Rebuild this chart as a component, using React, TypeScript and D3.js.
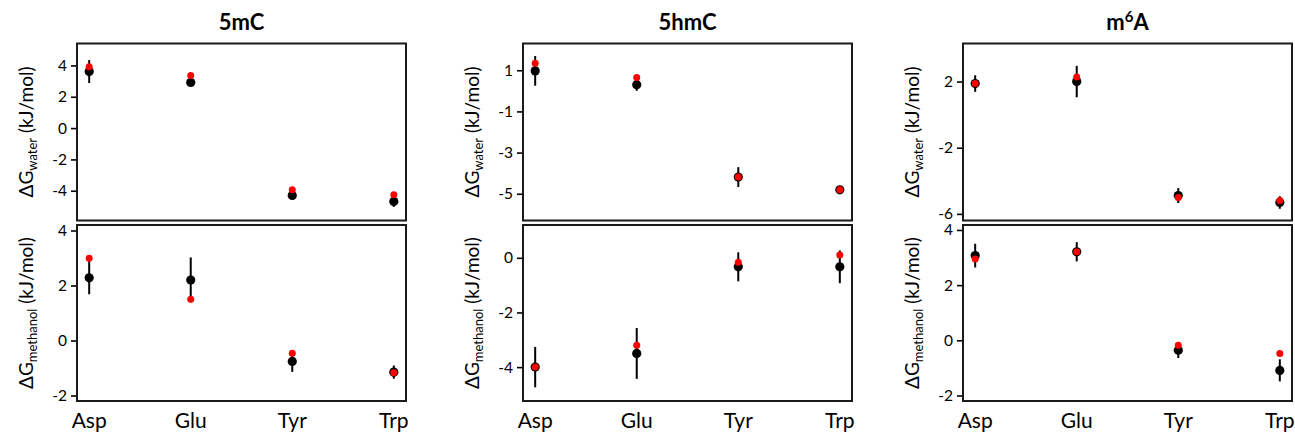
import React, { useEffect, useRef } from "react";
import * as d3 from "d3";

// amino acids on the x axis
const categories = ["Asp", "Glu", "Tyr", "Trp"];
const titles = ["5mC", "5hmC", "m6A"];

// black = mean with error bar, red = single value
const water5mC = [3.61, 2.91, -4.3, -4.68];
const water5mCErr = [0.73, 0.22, 0.25, 0.35];
const water5mCRed = [3.91, 3.36, -3.94, -4.26];
const methanol5mC = [2.28, 2.2, -0.76, -1.15];
const methanol5mCErr = [0.6, 0.82, 0.38, 0.24];
const methanol5mCRed = [2.99, 1.5, -0.46, -1.17];

const water5hmC = [0.97, 0.3, -4.19, -4.81];
const water5hmCErr = [0.72, 0.3, 0.48, 0.05];
const water5hmCRed = [1.34, 0.65, -4.19, -4.81];
const methanol5hmC = [-4.0, -3.5, -0.33, -0.33];
const methanol5hmCErr = [0.74, 0.93, 0.53, 0.6];
const methanol5hmCRed = [-4.0, -3.2, -0.16, 0.1];

const waterM6A = [1.88, 2.0, -4.89, -5.31];
const waterM6AErr = [0.5, 0.95, 0.45, 0.38];
const waterM6ARed = [1.88, 2.28, -5.01, -5.19];
const methanolM6A = [3.07, 3.21, -0.36, -1.09];
const methanolM6AErr = [0.43, 0.35, 0.28, 0.4];
const methanolM6ARed = [2.95, 3.21, -0.18, -0.48];

// axis ranges and ticks
const waterDomains = [[-5.9, 5.4], [-6.3, 2.3], [-6.4, 4.3]];
const waterTicks = [[-4, -2, 0, 2, 4], [-5, -3, -1, 1], [-6, -2, 2]];
const methanolDomains = [[-2.2, 4.2], [-5.24, 1.2], [-2.2, 4.18]];
const methanolTicks = [[-2, 0, 2, 4], [-4, -2, 0], [-2, 0, 2, 4]];

const font = "Lato, 'Open Sans', sans-serif";

export default function App() {
  const ref = useRef<SVGSVGElement>(null);

  useEffect(() => {
    const svg = d3.select(ref.current);
    svg.selectAll("*").remove();

    const width = 1295;
    const height = 434;
    svg.attr("width", width).attr("height", height);

    const frameLeft = [77, 523, 963];
    const frameWidth = 329;
    const rowsY = [
      [43.5, 220.5],
      [225, 401],
    ];

    const panels = [
      {
        rows: [
          { mean: water5mC, err: water5mCErr, red: water5mCRed, label: "water" },
          { mean: methanol5mC, err: methanol5mCErr, red: methanol5mCRed, label: "methanol" },
        ],
      },
      {
        rows: [
          { mean: water5hmC, err: water5hmCErr, red: water5hmCRed, label: "water" },
          { mean: methanol5hmC, err: methanol5hmCErr, red: methanol5hmCRed, label: "methanol" },
        ],
      },
      {
        rows: [
          { mean: waterM6A, err: waterM6AErr, red: waterM6ARed, label: "water" },
          { mean: methanolM6A, err: methanolM6AErr, red: methanolM6ARed, label: "methanol" },
        ],
      },
    ];

    panels.forEach((panel, i) => {
      const left = frameLeft[i];
      const x = d3
        .scalePoint()
        .domain(categories)
        .range([left, left + frameWidth])
        .padding(0.12);

      // title
      const title = svg
        .append("text")
        .attr("x", left + frameWidth / 2)
        .attr("y", 30)
        .attr("text-anchor", "middle")
        .attr("font-family", font)
        .attr("font-weight", "bold")
        .attr("font-size", 22);
      if (titles[i] === "m6A") {
        title.append("tspan").text("m");
        title.append("tspan").attr("dy", -8).attr("font-size", 15).text("6");
        title.append("tspan").attr("dy", 8).text("A");
      } else {
        title.text(titles[i]);
      }

      panel.rows.forEach((row, r) => {
        const [y0, y1] = rowsY[r];
        const domain = r === 0 ? waterDomains[i] : methanolDomains[i];
        const ticks = r === 0 ? waterTicks[i] : methanolTicks[i];
        const y = d3.scaleLinear().domain(domain).range([y1, y0]);
        const g = svg.append("g");

        const axis = d3
          .axisLeft(y)
          .tickValues(ticks)
          .tickSize(6)
          .tickPadding(4)
          .tickFormat((d) => String(d));
        g.append("g")
          .attr("transform", `translate(${left},0)`)
          .call(axis)
          .call((a) => a.select(".domain").remove())
          .call((a) => a.selectAll("line").attr("stroke-width", 1.6))
          .call((a) =>
            a.selectAll("text").attr("font-size", 15.5).attr("font-family", font).attr("fill", "#000")
          );

        // error bars
        g.selectAll(".err")
          .data(categories)
          .join("line")
          .attr("x1", (d) => x(d))
          .attr("x2", (d) => x(d))
          .attr("y1", (d, k) => y(row.mean[k] - row.err[k]))
          .attr("y2", (d, k) => y(row.mean[k] + row.err[k]))
          .attr("stroke", "#000")
          .attr("stroke-width", 2);

        g.selectAll(".blk")
          .data(categories)
          .join("circle")
          .attr("cx", (d) => x(d))
          .attr("cy", (d, k) => y(row.mean[k]))
          .attr("r", 4.6)
          .attr("fill", "#000");

        g.selectAll(".red")
          .data(categories)
          .join("circle")
          .attr("cx", (d) => x(d))
          .attr("cy", (d, k) => y(row.red[k]))
          .attr("r", 3.5)
          .attr("fill", "#ff0000");

        g.append("rect")
          .attr("x", left)
          .attr("y", y0)
          .attr("width", frameWidth)
          .attr("height", y1 - y0)
          .attr("fill", "none")
          .attr("stroke", "#1a1a1a")
          .attr("stroke-width", 2);

        // y title, rotated
        const cy = (y0 + y1) / 2;
        const lab = g
          .append("text")
          .attr("transform", `translate(${left - 44},${cy}) rotate(-90)`)
          .attr("text-anchor", "middle")
          .attr("font-family", font)
          .attr("font-size", 19)
          .attr("fill", "#000");
        lab.append("tspan").text("\u0394G");
        lab.append("tspan").attr("dy", 4).attr("font-size", 13).text(row.label);
        lab.append("tspan").attr("dy", -4).text(" (kJ/mol)");
      });

      // category labels
      svg
        .append("g")
        .selectAll("text")
        .data(categories)
        .join("text")
        .attr("x", (d) => x(d))
        .attr("y", 428)
        .attr("text-anchor", "middle")
        .attr("font-family", font)
        .attr("font-size", 21)
        .text((d) => d);
    });
  }, []);

  return (
    <svg
      ref={ref}
      style={{ position: "absolute", left: 0, top: 0, background: "#fff" }}
    ></svg>
  );
}
